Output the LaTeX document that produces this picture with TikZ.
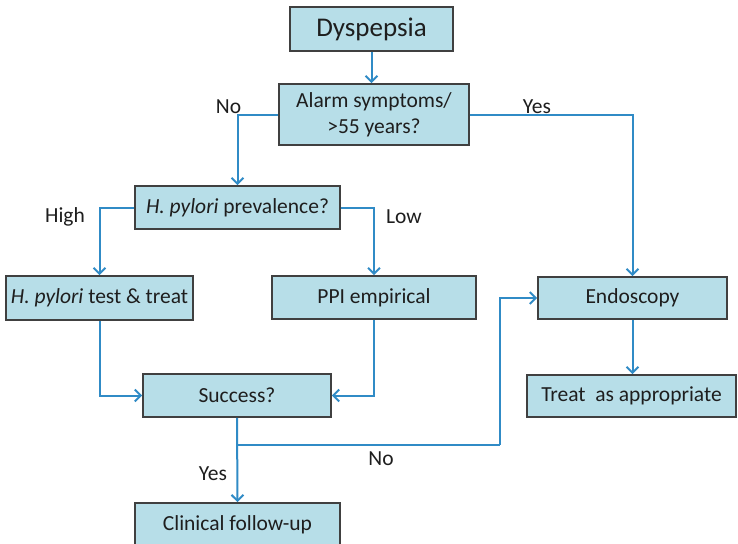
\documentclass[tikz,border=0pt]{standalone}
\usepackage{fontspec}
\setmainfont{Carlito}
\usetikzlibrary{arrows.meta}
\definecolor{boxfill}{RGB}{183,222,232}
\definecolor{boxline}{RGB}{64,64,64}
\definecolor{arrowblue}{RGB}{48,139,198}
\definecolor{txt}{RGB}{30,30,30}
\tikzset{
  box/.style={draw=boxline, fill=boxfill, line width=1.6pt, inner sep=0pt,
    align=center, text=txt, font=\fontsize{21.5}{26}\selectfont},
  conn/.style={draw=arrowblue, line width=2pt,
    -{Straight Barb[length=6pt,width=12pt,line width=2pt]}},
  plain/.style={draw=arrowblue, line width=2pt},
  lbl/.style={anchor=base, inner sep=0pt, font=\fontsize{21.5}{24}\selectfont, text=txt}
}
\begin{document}
\begin{tikzpicture}[x=1pt,y=-1pt]
\useasboundingbox (0,0) rectangle (738,543);
\fill[white] (0,0) rectangle (738,543);

\node[box, minimum width=163pt, minimum height=44pt, font=\fontsize{27}{30}\selectfont] (dys) at (371.5,29) {Dyspepsia};
\node[box, minimum width=190pt, minimum height=61pt] (alarm) at (374,114.5) {Alarm symptoms/\\>55 years?};
\node[box, minimum width=205pt, minimum height=43pt] (hp) at (237.5,207.5) {\textit{H. pylori} prevalence?};
\node[box, minimum width=187pt, minimum height=44pt] (tt) at (99.5,298) {\textit{H. pylori} test \& treat};
\node[box, minimum width=204pt, minimum height=43pt] (ppi) at (374,297.5) {PPI empirical};
\node[box, minimum width=189pt, minimum height=42pt] (endo) at (632.5,298) {Endoscopy};
\node[box, minimum width=188pt, minimum height=43pt] (succ) at (237,395.5) {Success?};
\node[box, minimum width=209pt, minimum height=42pt] (treat) at (631.5,396) {Treat\ \ as appropriate};
\node[box, minimum width=205pt, minimum height=44pt] (clin) at (237.5,525) {Clinical follow-up};

\coordinate (br) at (237,445);
\coordinate (nx) at (500,445);

\draw[conn] (dys.south) -- (dys.south |- alarm.north);
\draw[conn] (alarm.west) -| (hp.north);
\draw[conn] (alarm.east) -| (endo.north);
\draw[conn] (hp.west) -| (tt.north);
\draw[conn] (hp.east) -| (ppi.north);
\draw[conn] (tt.south) |- (succ.west);
\draw[conn] (ppi.south) |- (succ.east);
\draw[conn] (succ.south) -- (clin.north);
\draw[plain] (br) -- (nx);
\draw[conn] (nx) |- (endo.west);
\draw[conn] (endo.south) -- (endo.south |- treat.north);

\node[lbl] (lno1) at (228.5,113) {No};
\node[lbl] (lyes1) at (537,113) {Yes};
\node[lbl] (lhigh) at (65,222) {High};
\node[lbl] (llow) at (404,223) {Low};
\node[lbl] (lno2) at (381,465) {No};
\node[lbl] (lyes2) at (213,480) {Yes};
\end{tikzpicture}
\end{document}
